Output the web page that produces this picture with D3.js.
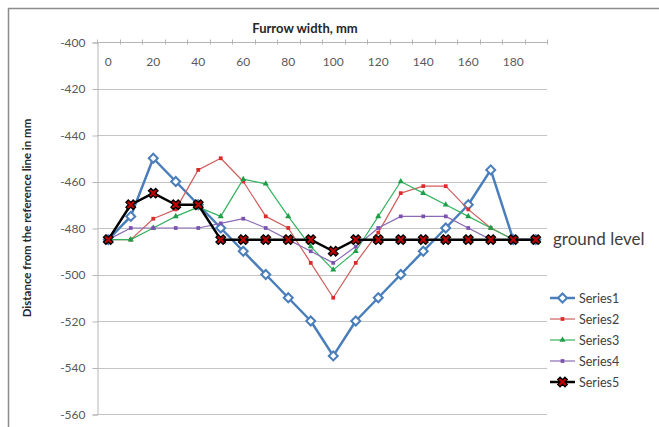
<!DOCTYPE html>
<html>
<head>
<meta charset="utf-8">
<script src="https://cdn.jsdelivr.net/npm/d3@7"></script>
<style>
  body { margin: 0; background: #fff; }
  svg { display: block; font-family: Lato, "Open Sans", sans-serif; }
</style>
</head>
<body>
<div id="chart"></div>
<script>
// furrow width categories (mm)
const widths = [0, 10, 20, 30, 40, 50, 60, 70, 80, 90, 100, 110, 120, 130, 140, 150, 160, 170, 180, 190]
const xLabels = [0, 20, 40, 60, 80, 100, 120, 140, 160, 180]
const yTicks = [-400, -420, -440, -460, -480, -500, -520, -540, -560]

const series1 = [-485, -475, -450, -460, -470, -480, -490, -500, -510, -520, -535, -520, -510, -500, -490, -480, -470, -455, -485, -485]
const series2 = [-485, -485, -476, -472, -455, -450, -460, -475, -480, -495, -510, -495, -482, -465, -462, -462, -472, -480, -485, -485]
const series3 = [-485, -485, -480, -475, -471, -475, -459, -461, -475, -488, -498, -490, -475, -460, -465, -470, -475, -480, -485, -485]
const series4 = [-485, -480, -480, -480, -480, -478, -476, -480, -485, -490, -495, -488, -480, -475, -475, -475, -480, -485, -485, -485]
const series5 = [-485, -470, -465, -470, -470, -485, -485, -485, -485, -485, -490, -485, -485, -485, -485, -485, -485, -485, -485, -485]

const W = 659, H = 427
const margin = { top: 42, left: 97, right: 112, bottom: 13 }

const svg = d3.select("#chart").append("svg")
	.attr("width", W)
	.attr("height", H)

// chart area border
svg.append("rect")
	.attr("x", 8.5).attr("y", 8.5)
	.attr("width", W + 20).attr("height", H + 20)
	.attr("fill", "none")
	.attr("stroke", "#8c8c8c")
	.attr("stroke-width", 1.5)

const x = d3.scaleBand()
	.domain(widths)
	.range([margin.left, W - margin.right])
	.padding(0)

const y = d3.scaleLinear()
	.domain([-400, -560])
	.range([margin.top, H - margin.bottom])

const cx = (d) => x(d) + x.bandwidth() / 2

// gridlines
svg.append("g")
	.selectAll("line")
	.data(yTicks.slice(1))
	.join("line")
	.attr("x1", margin.left)
	.attr("x2", W - margin.right)
	.attr("y1", (d) => Math.round(y(d)) + 0.5)
	.attr("y2", (d) => Math.round(y(d)) + 0.5)
	.attr("stroke", "#c4c4c4")

// y axis
const yAxis = svg.append("g")
	.attr("transform", `translate(${margin.left + 0.5},0.5)`)
	.call(d3.axisLeft(y).tickValues(yTicks).tickSize(5).tickPadding(7).tickFormat(d3.format("d")))
yAxis.select(".domain").attr("stroke", "#b5b5b5")
yAxis.selectAll(".tick line").attr("stroke", "#b5b5b5")
yAxis.selectAll(".tick text")
	.attr("fill", "#595959")
	.style("font-size", "12px")
	.style("font-family", "Lato")
	.text((d) => String(d).replace("−", "-"))

// category axis along the top (-400)
const axisY = Math.round(y(-400)) + 0.5
svg.append("line")
	.attr("x1", margin.left).attr("x2", W - margin.right)
	.attr("y1", axisY).attr("y2", axisY)
	.attr("stroke", "#b5b5b5")
svg.append("g")
	.selectAll("line")
	.data(widths.concat(["end"]))
	.join("line")
	.attr("x1", (d) => Math.round(d === "end" ? W - margin.right : x(d)) + 0.5)
	.attr("x2", (d) => Math.round(d === "end" ? W - margin.right : x(d)) + 0.5)
	.attr("y1", axisY - 3)
	.attr("y2", axisY + 2)
	.attr("stroke", "#b5b5b5")
svg.append("g")
	.selectAll("text")
	.data(xLabels)
	.join("text")
	.attr("x", (d) => cx(d))
	.attr("y", axisY + 23)
	.attr("text-anchor", "middle")
	.attr("fill", "#595959")
	.style("font-size", "12px")
	.text((d) => d)

// axis titles
svg.append("text")
	.attr("x", 305)
	.attr("y", 33)
	.attr("text-anchor", "middle")
	.attr("fill", "#262626")
	.style("font-size", "13px")
	.style("font-weight", "bold")
	.text("Furrow width, mm")

svg.append("text")
	.attr("transform", `translate(31,${218}) rotate(-90)`)
	.attr("text-anchor", "middle")
	.attr("fill", "#262626")
	.style("font-size", "11.5px")
	.style("font-weight", "bold")
	.text("Distance from the reference line in mm")

// series definitions
const symX = d3.symbol().type(d3.symbolCross).size(58)
const symDiamond = d3.symbol().type(d3.symbolSquare).size(40)
const symSquare = d3.symbol().type(d3.symbolSquare).size(14)
const symTri = d3.symbol().type(d3.symbolTriangle).size(16)

const seriesList = [
	{ name: "Series1", values: series1, color: "#4a7ebb", width: 2.5, path: symDiamond, rotate: 45, fill: "#fff", stroke: "#4a7ebb", sw: 2 },
	{ name: "Series2", values: series2, color: "#cf5f5c", width: 1.2, path: symSquare, rotate: 0, fill: "#dd2a2a", stroke: "none", sw: 0 },
	{ name: "Series3", values: series3, color: "#34b35f", width: 1.2, path: symTri, rotate: 0, fill: "#1f9e48", stroke: "none", sw: 0 },
	{ name: "Series4", values: series4, color: "#8a6cb5", width: 1.2, path: symSquare, rotate: 0, fill: "#7a52b0", stroke: "none", sw: 0 },
	{ name: "Series5", values: series5, color: "#000", width: 2.5, path: symX, rotate: 45, fill: "#c00000", stroke: "#000", sw: 1.3 },
]

const line = d3.line()
	.x((d) => cx(d.w))
	.y((d) => y(d.v))

seriesList.forEach((s) => {
	const pts = widths.map((w, i) => ({ w, v: s.values[i] }))
	const g = svg.append("g")
	g.append("path")
		.datum(pts)
		.attr("fill", "none")
		.attr("stroke", s.color)
		.attr("stroke-width", s.width)
		.attr("stroke-linejoin", "round")
		.attr("d", line)
	g.selectAll(".m")
		.data(pts)
		.join("path")
		.attr("transform", (d) => `translate(${cx(d.w)},${y(d.v)}) rotate(${s.rotate})`)
		.attr("d", s.path())
		.attr("fill", s.fill)
		.attr("stroke", s.stroke)
		.attr("stroke-width", s.sw)
})

// legend
const legend = svg.append("g").attr("transform", "translate(550,298)")
seriesList.forEach((s, i) => {
	const row = legend.append("g").attr("transform", `translate(0,${i * 21})`)
	row.append("line")
		.attr("x1", 0).attr("x2", 25)
		.attr("stroke", s.color)
		.attr("stroke-width", s.width)
	row.append("path")
		.attr("transform", `translate(12.5,0) rotate(${s.rotate})`)
		.attr("d", s.path())
		.attr("fill", s.fill)
		.attr("stroke", s.stroke)
		.attr("stroke-width", s.sw)
	row.append("text")
		.attr("x", 29)
		.attr("y", 4.5)
		.attr("fill", "#404040")
		.style("font-size", "12.5px")
		.text(s.name)
})

// text box label
svg.append("text")
	.attr("x", 553)
	.attr("y", 245)
	.attr("fill", "#404040")
	.style("font-size", "17px")
	.text("ground level")
</script>
</body>
</html>
